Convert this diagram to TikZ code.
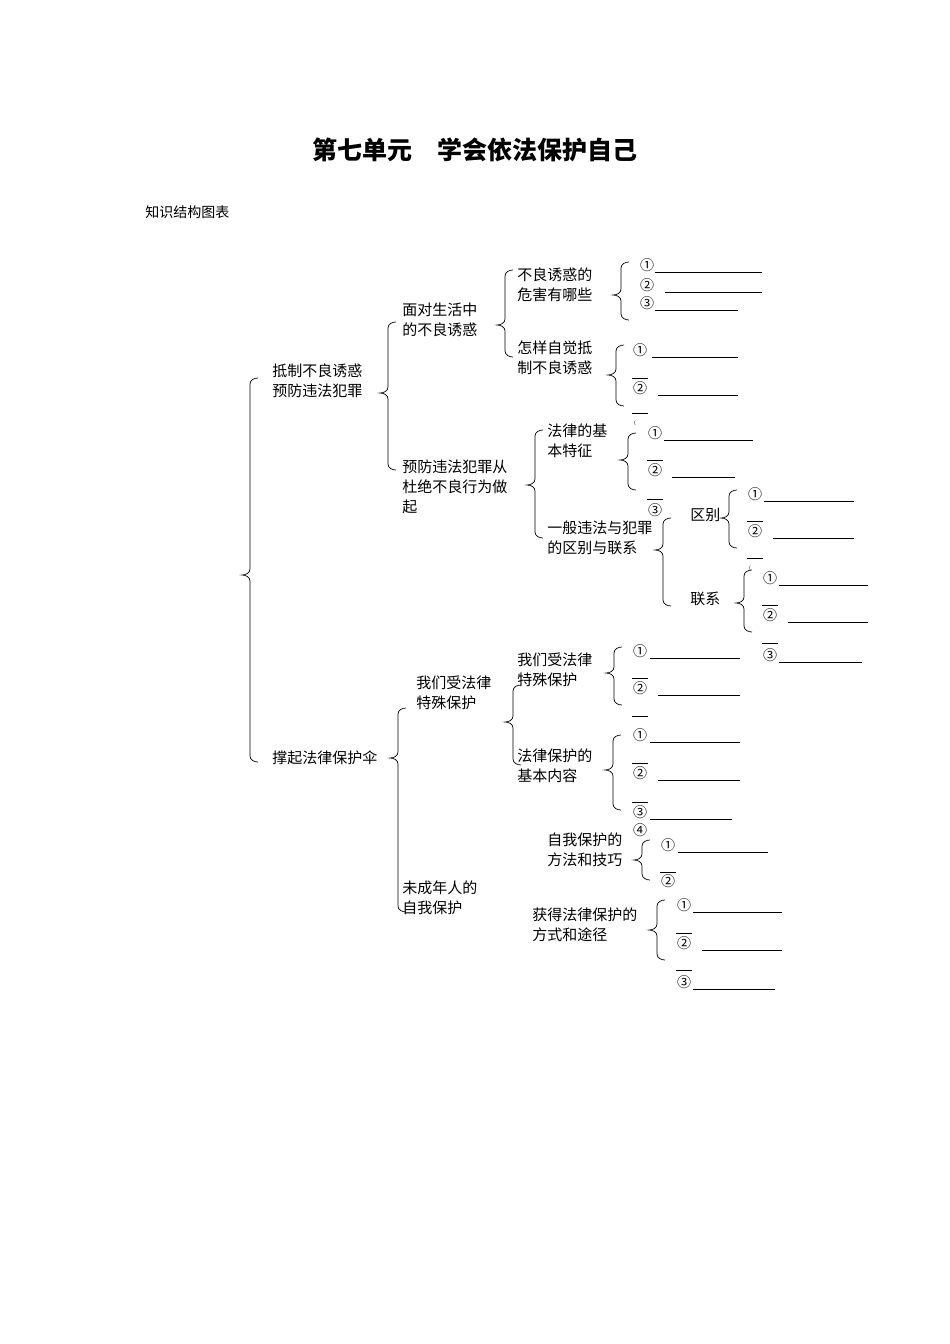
\documentclass[tikz,border=0pt]{standalone}
\usepackage{fontspec}
\newfontfamily\cjk{Noto Sans CJK SC}
\newcommand\brc[4]{\draw ({#1+8},{#2}) to[out=180,in=90] (#1,{#2+6}) -- (#1,{#3-6}) to[out=-90,in=0] ({#1-8},#3) to[out=0,in=90] (#1,{#3+6}) -- (#1,{#4-6}) to[out=-90,in=180] ({#1+8},#4);}
\newcommand\itm[5]{\node[num] at (#2,#3) {#1}; \draw[blank] (#4,{#3+7}) -- (#5,{#3+7});}
\newcommand\nm[3]{\node[num] at (#2,#3) {#1};}
\newcommand\ob[2]{\draw[thin] ({#1-8},#2) -- ({#1+8},#2);}
\tikzset{txt/.style={anchor=north west,align=left,inner sep=0,font=\cjk\fontsize{15}{20}\selectfont},
num/.style={inner sep=0,font=\cjk\fontsize{14}{14}\selectfont},
blank/.style={line width=0.6pt}}
\begin{document}
\begin{tikzpicture}[x=1pt,y=-1pt,line width=0.7pt]
\useasboundingbox[fill=white] (0,0) rectangle (950,1344);
\node[font=\cjk\bfseries\fontsize{25}{25}\selectfont] (title) at (475,150) {第七单元\quad 学会依法保护自己};
\node[anchor=west,inner sep=0,font=\cjk\fontsize{14}{14}\selectfont] (sub) at (145,212) {知识结构图表};
% level 1
\brc{250}{378}{575}{762}
\node[txt] (a) at (272,363) {抵制不良诱惑\\预防违法犯罪};
\node[txt] (b) at (272,750) {撑起法律保护伞};
% level 2 upper
\brc{388}{322}{393}{470}
\node[txt] (a1) at (402,303) {面对生活中\\的不良诱惑};
\node[txt] (a2) at (402,460) {预防违法犯罪从\\杜绝不良行为做\\起};
\brc{505}{270}{325}{357}
\node[txt] (a11) at (517,267) {不良诱惑的\\危害有哪些};
\node[txt] (a12) at (517,340) {怎样自觉抵\\制不良诱惑};
\brc{621}{262}{295}{320}
\itm{①}{647}{265}{655}{762}
\itm{②}{647}{285}{665}{762}
\itm{③}{647}{303}{655}{738}
\brc{616}{345}{375}{406}
\itm{①}{640}{350}{652}{738}
\ob{640}{378}\itm{②}{640}{388}{658}{738}
\ob{640}{413}\node[font=\tiny] at (635,423) {(};
\brc{535}{430}{485}{538}
\node[txt] (a21) at (547,423) {法律的基\\本特征};
\node[txt] (a22) at (547,520) {一般违法与犯罪\\的区别与联系};
\brc{628}{433}{460}{490}
\itm{①}{655}{433}{664}{753}
\ob{655}{460}\itm{②}{655}{470}{672}{735}
\ob{655}{499}\nm{③}{655}{510}
\brc{663}{518}{550}{606}
\node[txt] (q) at (690,508) {区别};
\node[txt] (l) at (690,592) {联系};
\brc{729}{490}{518}{548}
\itm{①}{755}{494}{764}{854}
\ob{755}{521}\itm{②}{755}{531}{773}{854}
\ob{755}{558}\node[font=\tiny] at (750,568) {(};
\brc{744}{570}{603}{632}
\itm{①}{770}{578}{779}{868}
\ob{770}{605}\itm{②}{770}{615}{788}{868}
\ob{770}{643}\itm{③}{770}{655}{779}{862}
% level 2 lower
\brc{398}{708}{758}{912}
\node[txt] (b1) at (416,675) {我们受法律\\特殊保护};
\node[txt] (b2) at (402,880) {未成年人的\\自我保护};
\brc{513}{685}{722}{765}
\node[txt] (b11) at (517,652) {我们受法律\\特殊保护};
\node[txt] (b12) at (517,748) {法律保护的\\基本内容};
\brc{614}{647}{673}{705}
\itm{①}{640}{651}{650}{740}
\ob{640}{678}\itm{②}{640}{688}{658}{740}
\ob{640}{716}
\brc{613}{735}{770}{810}
\itm{①}{640}{735}{650}{740}
\ob{640}{763}\itm{②}{640}{773}{658}{740}
\ob{640}{802}\itm{③}{640}{812}{650}{732}
\nm{④}{640}{830}
\brc{642}{840}{860}{880}
\node[txt] (b21) at (547,832) {自我保护的\\方法和技巧};
\itm{①}{668}{845}{678}{768}
\ob{668}{872}\nm{②}{668}{881}
\brc{657}{900}{930}{960}
\node[txt] (b22) at (532,907) {获得法律保护的\\方式和途径};
\itm{①}{684}{905}{693}{782}
\ob{684}{933}\itm{②}{684}{943}{702}{782}
\ob{684}{970}\itm{③}{684}{982}{693}{775}
\end{tikzpicture}
\end{document}
